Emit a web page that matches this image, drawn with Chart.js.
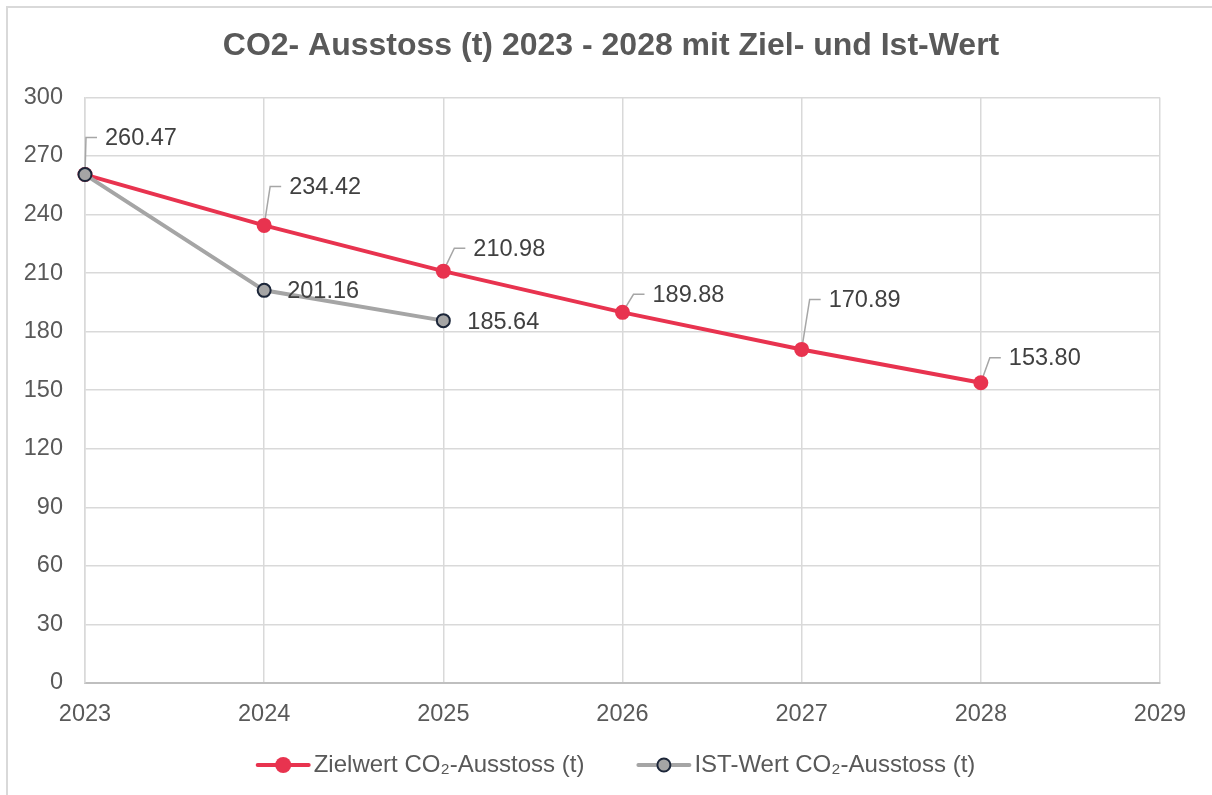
<!DOCTYPE html>
<html>
<head>
<meta charset="utf-8">
<script src="https://cdn.jsdelivr.net/npm/chart.js@4"></script>
<style>
  html, body { margin: 0; padding: 0; background: #fff; }
  #wrap { width: 1212px; height: 795px; position: relative; }
</style>
</head>
<body>
<div id="wrap"><canvas id="myChart"></canvas></div>
<script>
let years = [2023, 2024, 2025, 2026, 2027, 2028];
let zielValues = [260.47, 234.42, 210.98, 189.88, 170.89, 153.80];
let istValues = [260.47, 201.16, 185.64];
let seriesNames = ["Zielwert CO\u2082-Ausstoss (t)", "IST-Wert CO\u2082-Ausstoss (t)"];
let chartTitle = "CO2- Ausstoss (t) 2023 - 2028 mit Ziel- und Ist-Wert";

const FONT = "'Liberation Sans', Arial, sans-serif";
const RED = '#E8334F';
const GREY = '#A5A5A5';
const NAVY = '#1C2639';

// label placement relative to the point: [dx, dy, leader line?]
const labelOffsets = [
  [[20, -36, true], [25, -38, true], [30, -22, true], [30, -17, true], [27, -49, true], [28, -24, true]],
  [null, [23, 1, false], [24, 2, false]]
];

function toPoints(values) {
  return values.map((v, i) => ({ x: years[i], y: v }));
}

const frame = {
  id: 'frame',
  beforeDraw(chart) {
    const ctx = chart.ctx;
    ctx.save();
    ctx.strokeStyle = '#D9D9D9';
    ctx.lineWidth = 2;
    ctx.beginPath();
    ctx.moveTo(7, 795); ctx.lineTo(7, 7); ctx.lineTo(1212, 7);
    ctx.stroke();
    ctx.restore();
  }
};

const pointLabels = {
  id: 'pointLabels',
  beforeDatasetsDraw(chart) {
    const ctx = chart.ctx;
    ctx.save();
    ctx.strokeStyle = '#A6A6A6';
    ctx.lineWidth = 1.5;
    chart.data.datasets.forEach((ds, i) => {
      chart.getDatasetMeta(i).data.forEach((pt, j) => {
        const o = labelOffsets[i][j];
        if (!o || !o[2]) return;
        const tx = pt.x + o[0], ty = pt.y + o[1] - 1;
        ctx.beginPath();
        ctx.moveTo(pt.x, pt.y);
        ctx.lineTo(tx - 19, ty);
        ctx.lineTo(tx - 8, ty);
        ctx.stroke();
      });
    });
    ctx.restore();
  },
  afterDatasetsDraw(chart) {
    const ctx = chart.ctx;
    ctx.save();
    ctx.fillStyle = '#404040';
    ctx.font = '23.5px ' + FONT;
    ctx.textBaseline = 'middle';
    ctx.textAlign = 'left';
    chart.data.datasets.forEach((ds, i) => {
      chart.getDatasetMeta(i).data.forEach((pt, j) => {
        const o = labelOffsets[i][j];
        if (!o) return;
        ctx.fillText(ds.data[j].y.toFixed(2), pt.x + o[0], pt.y + o[1]);
      });
    });
    ctx.restore();
  }
};

// Excel style legend: line + marker, centred under the chart
const lineLegend = {
  id: 'lineLegend',
  afterDraw(chart) {
    const ctx = chart.ctx;
    const ds = chart.data.datasets;
    const iconW = 55, gap = 3, spacing = 52, y = 765;
    ctx.save();
    ctx.font = '24px ' + FONT;
    ctx.textBaseline = 'middle';
    ctx.textAlign = 'left';
    const widths = ds.map(d => ctx.measureText(d.label).width);
    let total = 0;
    widths.forEach((w, i) => { total += iconW + gap + w + (i ? spacing : 0); });
    let x = 615.5 - total / 2;
    ds.forEach((d, i) => {
      ctx.strokeStyle = d.borderColor;
      ctx.lineWidth = 4;
      ctx.lineCap = 'round';
      ctx.beginPath(); ctx.moveTo(x + 2, y); ctx.lineTo(x + iconW - 2, y); ctx.stroke();
      ctx.beginPath(); ctx.arc(x + iconW / 2, y, d.pointRadius + (i ? 0 : 0.5), 0, Math.PI * 2);
      ctx.fillStyle = d.pointBackgroundColor; ctx.fill();
      if (d.pointBorderWidth) { ctx.lineWidth = d.pointBorderWidth; ctx.strokeStyle = d.pointBorderColor; ctx.stroke(); }
      ctx.fillStyle = '#595959';
      ctx.fillText(d.label, x + iconW + gap, y);
      x += iconW + gap + widths[i] + spacing;
    });
    ctx.restore();
  }
};

new Chart("myChart", {
  type: "line",
  data: {
    datasets: [{
      label: seriesNames[0],
      data: toPoints(zielValues),
      borderColor: RED,
      backgroundColor: RED,
      borderWidth: 4,
      pointRadius: 7.5,
      pointBorderWidth: 0,
      pointBackgroundColor: RED,
      clip: false,
      order: 1
    }, {
      label: seriesNames[1],
      data: toPoints(istValues),
      borderColor: GREY,
      backgroundColor: GREY,
      borderWidth: 4,
      pointRadius: 6.5,
      pointBorderWidth: 2,
      pointBorderColor: NAVY,
      pointBackgroundColor: GREY,
      clip: false,
      order: 0
    }]
  },
  plugins: [frame, pointLabels, lineLegend],
  options: {
    responsive: true,
    maintainAspectRatio: false,
    animation: false,
    layout: { padding: { left: 10, right: 0, top: 12, bottom: 57 } },
    scales: {
      x: {
        type: 'linear',
        min: 2023,
        max: 2029,
        ticks: {
          stepSize: 1,
          padding: 17,
          color: '#595959',
          font: { family: FONT, size: 23.5 },
          callback: v => String(v)
        },
        grid: { color: '#D9D9D9', lineWidth: 1.5, drawTicks: false },
        border: { color: '#BFBFBF', width: 2 },
        afterFit: s => { s.height = 55; }
      },
      y: {
        min: 0,
        max: 300,
        ticks: {
          stepSize: 30,
          padding: 22,
          color: '#595959',
          font: { family: FONT, size: 23.5 }
        },
        grid: { color: '#D9D9D9', lineWidth: 1.5, drawTicks: false },
        border: { color: '#D9D9D9', width: 1.5 },
        afterFit: s => { s.width = 75; }
      },
      // empty right-hand margin so the title centres on the whole chart
      spacer: {
        type: 'linear',
        position: 'right',
        display: true,
        grid: { display: false, drawTicks: false },
        border: { display: false },
        ticks: { display: false },
        afterFit: s => { s.width = 52; }
      }
    },
    plugins: {
      title: {
        display: true,
        text: chartTitle,
        color: '#595959',
        font: { family: FONT, size: 32, weight: 'bold' },
        padding: { top: 15, bottom: 32 }
      },
      legend: { display: false },
      tooltip: { enabled: false }
    }
  }
});
</script>
</body>
</html>
